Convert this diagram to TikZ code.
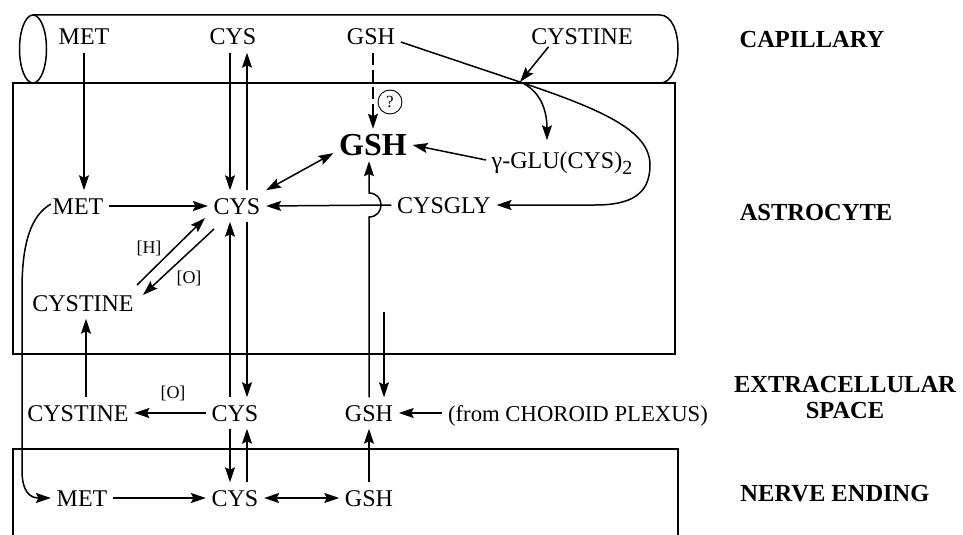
\documentclass[tikz,border=0pt]{standalone}
\usepackage{fontspec}
\setmainfont{Liberation Serif}
\usetikzlibrary{arrows.meta,calc}
\begin{document}
\begin{tikzpicture}[x=1pt,y=-1pt,line width=1.5pt,
  lbl/.style={font=\fontsize{24}{28}\selectfont, text height=16pt, text depth=0pt, inner xsep=5pt, inner ysep=7pt},
  reg/.style={font=\bfseries\fontsize{24.5}{26}\selectfont, inner sep=0pt, align=center},
  sm/.style={font=\fontsize{18}{20}\selectfont, inner sep=0pt},
  arr/.style={-{Stealth[length=15pt,width=10pt,inset=2.5pt]}},
  darr/.style={{Stealth[length=15pt,width=10pt,inset=2.5pt]}-{Stealth[length=15pt,width=10pt,inset=2.5pt]}}]
\useasboundingbox (0,0) rectangle (963,535);

% compartments
\draw (33,49) ellipse [x radius=13.5pt, y radius=34pt];
\draw (33,15) -- (660,15) .. controls (684,15) and (684,83) .. (660,83);
\draw (13,83) rectangle (675,354);
\draw (13,535) -- (13,449) -- (678,449) -- (678,535);

% region labels
\node[reg] (lcap) at (812,40) {CAPILLARY};
\node[reg] (last) at (816,213) {ASTROCYTE};
\node[reg] (lext) at (845,398) {EXTRACELLULAR\\SPACE};
\node[reg] (lner) at (835,494) {NERVE ENDING};

% capillary
\node[lbl] (metC) at (84,37) {MET};
\node[lbl] (cysC) at (233,37) {CYS};
\node[lbl] (gshC) at (371,37) {GSH};
\node[lbl] (cystC) at (582,37) {CYSTINE};

% astrocyte
\node[lbl] (metA) at (78,206) {MET};
\node[lbl] (cysA) at (237,206) {CYS};
\node[font=\bfseries\fontsize{32}{36}\selectfont, text height=21pt, text depth=0pt, inner sep=5pt] (gsh) at (373,145) {GSH};
\node[lbl] (glu) at (562,160) {γ-GLU(CYS)\raisebox{-6pt}{\fontsize{20}{20}\selectfont 2}};
\node[lbl] (cysgly) at (444,205) {CYSGLY};
\node[lbl] (cystA) at (83,303) {CYSTINE};
\node[circle, draw, line width=0.9pt, inner sep=0pt, minimum size=24pt, font=\fontsize{17}{18}\selectfont] (q) at (390,102) {?};
\node[sm] (hlab) at (149,248) {[H]};
\node[sm] (olab) at (189,278) {[O]};

% extracellular
\node[lbl] (cystE) at (78,413) {CYSTINE};
\node[lbl] (cysE) at (235,413) {CYS};
\node[lbl] (gshE) at (369,413) {GSH};
\node[lbl, font=\fontsize{22.7}{26}\selectfont] (chor) at (578,413) {(from CHOROID PLEXUS)};
\node[sm] (olab2) at (173,393) {[O]};

% nerve ending
\node[lbl] (metN) at (82,498) {MET};
\node[lbl] (cysN) at (235,498) {CYS};
\node[lbl] (gshN) at (369,498) {GSH};

% helper coordinates
\coordinate (xl) at (230,0);
\coordinate (xr) at (247,0);
\coordinate (xc) at (86,0);
\coordinate (gin) at (384,312);
\coordinate (cross) at (520,82);
\coordinate (hop) at (gshE.north |- cysgly.west);

% capillary -> astrocyte
\draw[arr] (metC.south) -- (metC.south |- metA.north);
\draw[arr] (cysC.south -| xl) -- (cysA.north -| xl);
\draw[arr] (cysA.north -| xr) -- (cysC.south -| xr);
\draw[arr, dash pattern=on 12pt off 5pt] (gsh.north |- gshC.south) -- (gsh.north);
\draw[arr] ($(gshC.east)+(0,5)$) -- (cross) .. controls (600,109) and (650,130) .. (650,165) .. controls (650,195) and (630,205) .. (595,205) -- (cysgly.east);
\draw[arr] ($(cystC.south west)+(23,-6)$) -- (cross);
\draw[arr] (cross) .. controls (540,90) and (547,110) .. ($(glu.north)+(-15,-4)$);

% astrocyte
\draw[darr] (cysA.north east) -- ($(gsh.west)!0.5!(gsh.south west)$);
\draw[arr] (glu.west) -- (gsh.east);
\draw[arr] (cysgly.west) -- (cysA.east);
\draw[arr] (metA.east) -- (cysA.west);
\draw[arr] ($(cystA.center)+(54,-18)$) -- ($(cysA.center)+(-32,12)$);
\draw[arr] ($(cysA.center)+(-23,23)$) -- ($(cystA.center)+(60,-8)$);
\draw[arr] ($(metA.west)+(4,-2)$) .. controls (32,215) and (22,240) .. (22,290) -- (22,470) .. controls (22,492) and (30,498) .. (metN.west);

% astrocyte <-> extracellular
\draw[arr] (cysE.north -| xl) -- (cysA.south -| xl);
\draw[arr] (cysA.south -| xr) -- (cysE.north -| xr);
\draw[arr] (gshE.north) -- ($(hop)+(0,12)$) .. controls +(16,0) and +(16,0) .. ($(hop)+(0,-12)$) -- (gshE.north |- gsh.south);
\draw[arr] (gin) -- (gin |- gshE.north);
\draw[arr] (cystE.north -| xc) -- (cystA.south -| xc);

% extracellular
\draw[arr] (cysE.west) -- (cystE.east);
\draw[arr] (chor.west) -- (gshE.east);

% extracellular <-> nerve ending
\draw[arr] (cysE.south -| xl) -- (cysN.north -| xl);
\draw[arr] (cysN.north -| xr) -- (cysE.south -| xr);
\draw[arr] (gshN.north) -- (gshE.south);

% nerve ending
\draw[arr] (metN.east) -- (cysN.west);
\draw[darr] (cysN.east) -- (gshN.west);
\end{tikzpicture}
\end{document}
